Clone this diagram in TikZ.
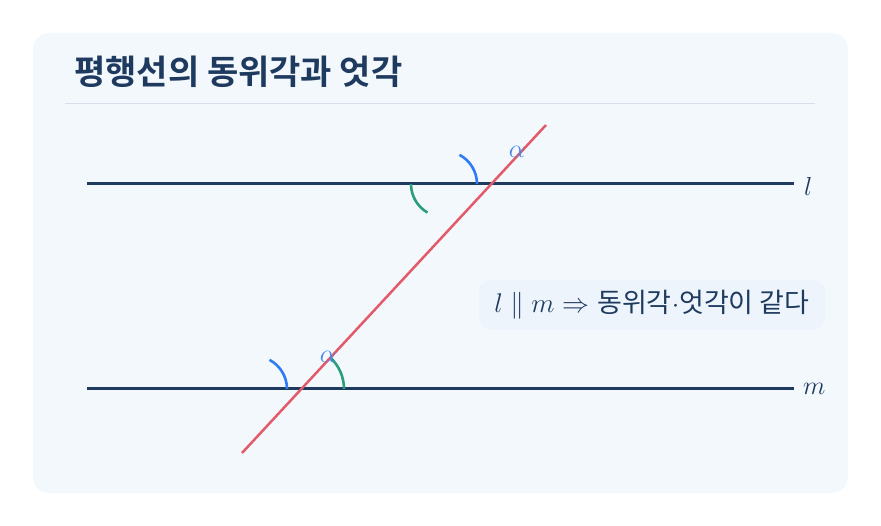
\documentclass[tikz,border=0pt]{standalone}
\usepackage{fix-cm}
\usepackage{amsmath, amssymb}
\usepackage{fontspec}
\usepackage{xcolor}
\usepackage{tikz}
\usetikzlibrary{positioning,shapes}

\newfontfamily\kr{Noto Sans CJK KR}
\newfontfamily\krbold{Noto Sans CJK KR Bold}

\definecolor{navy}{HTML}{1E3A5F}
\definecolor{cardbg}{HTML}{F3F8FD}
\definecolor{boxbg}{HTML}{EEF4FC}
\definecolor{rule}{HTML}{D6DFE9}
\definecolor{trans}{HTML}{E35A68}
\definecolor{arcblue}{HTML}{2F7BF5}
\definecolor{arcgreen}{HTML}{2A9E78}
\definecolor{alphablue}{HTML}{4A86E8}

\begin{document}
\begin{tikzpicture}[
            x=1pt, y=-1pt,
            parline/.style={navy, line width=3pt},
            angblue/.style={arcblue, line width=2.6pt},
            anggreen/.style={arcgreen, line width=2.6pt},
            auto
        ]
            \useasboundingbox (0,0) rectangle (881,526);
            % Card and title
            \fill[cardbg, rounded corners=16pt] (33,33) rectangle (848,493);
            \node[anchor=west, inner sep=0pt, text=navy] (title) at (74,72)
                {\krbold\fontsize{34}{40}\selectfont 평행선의 동위각과 엇각};
            \coordinate (r1) at (65,104);
            \coordinate (r2) at (815,104);
            \draw[rule, line width=1pt] (r1) -- (r2);
            \begin{scope}[
                every node/.style={inner sep=0pt, text=navy}
            ]
                % Line ends
                \coordinate (l1) at (87,184);
                \coordinate (l2) at (794,184);
                \coordinate (m1) at (87,389);
                \coordinate (m2) at (794,389);
                \coordinate (t1) at (242,453);
                \coordinate (t2) at (546,125);
                % Lines
                \draw[parline] (l1) -- (l2); % l
                \draw[parline] (m1) -- (m2); % m
                \node[anchor=west] (ll) at (804,186) {\fontsize{26}{30}\selectfont $l$};
                \node[anchor=west] (lm) at (803,389) {\fontsize{26}{30}\selectfont $m$};
                \draw[trans, line width=2.5pt] (t1) -- (t2); % transversal
                % Angles
                \draw[angblue] (477,184) arc[start angle=0, end angle=-62, radius=33];
                \draw[anggreen] (411,184) arc[start angle=180, end angle=120, radius=33];
                \draw[angblue] (287,389) arc[start angle=0, end angle=-62, radius=33];
                \draw[anggreen] (344,389) arc[start angle=0, end angle=-46, radius=43];
                \node[text=alphablue] (a1) at (517,152) {\fontsize{26}{30}\selectfont $\alpha$};
                \node[text=alphablue] (a2) at (328,357) {\fontsize{26}{30}\selectfont $\alpha$};
                % Note
                \node[fill=boxbg, rounded corners=12pt, minimum width=346pt, minimum height=50pt]
                    (note) at (652,305)
                    {\fontsize{27}{32}\selectfont $l \parallel m \Rightarrow$ {\kr 동위각}$\cdot${\kr 엇각이 같다}};
            \end{scope}
        \end{tikzpicture}
\end{document}
